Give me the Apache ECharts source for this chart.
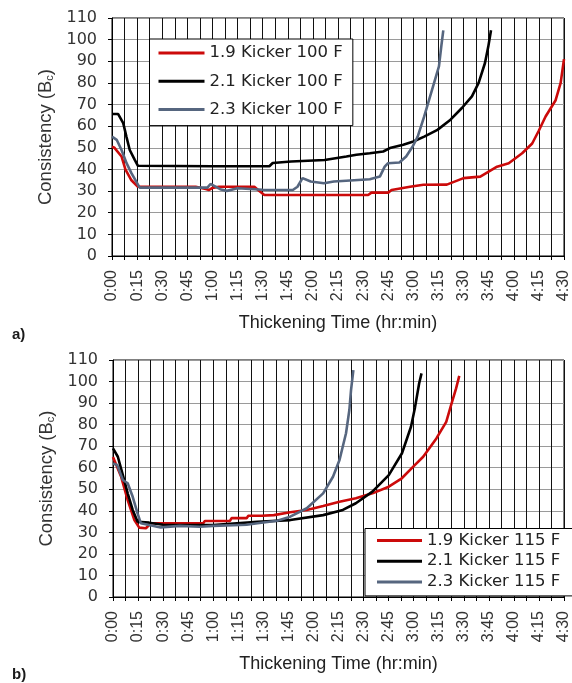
<!DOCTYPE html>
<html>
<head>
<meta charset="utf-8">
<script src="https://cdn.jsdelivr.net/npm/echarts@6/dist/echarts.min.js"></script>
<style>
html,body{margin:0;padding:0;background:#fff;}
#chart{width:572px;height:683px;}
</style>
</head>
<body>
<div id="chart"></div>
<script>
// Time in minutes, consistency in Bc
const aRedT = [0, 1.5, 5.7, 8, 11.6, 15.5, 30, 50, 56, 58, 60, 64, 75, 85, 88, 91, 120, 153, 155, 165, 167, 178, 186, 200, 205, 210, 220, 225, 230, 237, 245, 251, 255, 259, 265, 268, 270];
const aRedV = [50.5, 50, 46, 40, 35, 32, 32, 32, 31, 30.5, 31.5, 32, 32, 32, 30, 28.2, 28.2, 28.2, 29.3, 29.3, 30.5, 32, 32.9, 33, 34.5, 36, 36.7, 39, 41.3, 42.9, 47.5, 52, 58, 64.5, 72, 80, 91];
const aBlackT = [0, 3.7, 6.7, 8.6, 10.6, 13.6, 15.5, 60, 94, 96, 107, 127, 140, 146, 154, 162, 166, 174, 180, 186.5, 194.4, 202.2, 209, 215, 219, 222.8, 224.8, 226.4];
const aBlackV = [65.6, 65.6, 61.4, 55.2, 49, 44.4, 41.7, 41.5, 41.5, 43, 43.7, 44.4, 46, 46.8, 47.5, 48.3, 49.9, 51.4, 52.9, 55.2, 58.3, 63, 68.4, 73.8, 80, 89.2, 96.9, 104.3];
const aBlueT = [0, 2.8, 5.7, 8.7, 11.6, 14.5, 16.5, 40, 57, 58.8, 64.6, 68.6, 75, 90, 108, 110.8, 113.8, 118.7, 126.6, 132.5, 142.3, 154, 160, 162.9, 164.9, 171.7, 175.7, 179.6, 182.6, 186.5, 189.4, 192.4, 195.3, 196.7, 197.9];
const aBlueV = [55.2, 53.7, 49, 42.9, 38.3, 34.4, 31.6, 31.6, 31.6, 33.3, 30.9, 30.1, 31.3, 30.6, 30.5, 32, 36, 34.4, 33.6, 34.4, 34.9, 35.5, 36.7, 41.3, 42.9, 43.2, 46, 50.6, 55.2, 64.5, 72.2, 80, 87.6, 96.9, 104.3];

const bRedT = [0, 4.9, 8.8, 12.8, 15.7, 19.7, 22.6, 54, 55, 70, 71, 80, 81, 89, 96.3, 106.1, 116, 125.8, 135.6, 145.4, 155.3, 165.1, 172.9, 180.8, 185.7, 193.6, 199.5, 202.4, 205.4, 207.3];
const bRedV = [65, 55.8, 45, 35.7, 32.2, 31.9, 34.2, 34.2, 35.3, 35.3, 36.6, 36.6, 37.7, 37.7, 38, 39.3, 40.4, 42.2, 44.2, 45.8, 48.1, 51.2, 55.1, 61.3, 65.1, 73.6, 81.3, 89.1, 96.8, 102.6];
const bBlackT = [0, 2.9, 5.9, 8.8, 11.8, 14.7, 21.6, 30, 60, 86.5, 106.1, 125.8, 137.6, 145.4, 155.3, 165.1, 173, 178.4, 180.8, 183.3, 184.7];
const bBlackV = [69, 65.1, 56.6, 48.1, 40.4, 34.9, 34.5, 33.5, 33.4, 34.9, 35.7, 38, 40.4, 43.5, 48.9, 56.6, 66.7, 79, 88, 99.2, 103.8];
const bBlueT = [0, 2.5, 5.9, 8.8, 11.8, 14.7, 16.7, 28.5, 40, 52, 60, 80, 86.5, 98.3, 106.1, 116, 125.8, 131.7, 135.6, 139.5, 141.5, 142.5, 143.9];
const bBlueV = [62, 61.3, 54.3, 52.8, 46.5, 38.8, 34.2, 32.3, 33, 32.6, 33, 33.5, 34.2, 35.4, 37.3, 41.2, 48.1, 55.8, 63.6, 76, 86.8, 96, 105.3];

const namesA = ['1.9 Kicker 100 F', '2.1 Kicker 100 F', '2.3 Kicker 100 F'];
const namesB = ['1.9 Kicker 115 F', '2.1 Kicker 115 F', '2.3 Kicker 115 F'];
const colors = ['#cc0a0a', '#000000', '#56667f'];

const pairs = (t, v) => t.map((x, i) => [x, v[i]]);
const fmt = m => Math.floor(m / 60) + ':' + String(Math.round(m % 60)).padStart(2, '0');

function xAxisCfg(gi) {
  return {
    type: 'value', gridIndex: gi, min: 0, max: 270, interval: 15,
    axisLine: { show: true, lineStyle: { color: '#000', width: 1 } },
    axisTick: { show: true, length: 4, lineStyle: { color: '#000' } },
    minorTick: { show: true, splitNumber: 2, length: 4, lineStyle: { color: '#000' } },
    splitLine: { show: true, lineStyle: { color: '#111', width: 1 } },
    minorSplitLine: { show: true, lineStyle: { color: '#111', width: 1 } },
    axisLabel: { rotate: 90, margin: 14, formatter: fmt, fontFamily: 'Liberation Sans', fontSize: 16, color: '#333' },
    name: 'Thickening Time (hr:min)', nameLocation: 'middle', nameGap: 58,
    nameTextStyle: { fontFamily: 'Liberation Sans', fontSize: 18, color: '#222' }
  };
}
function yAxisCfg(gi) {
  return {
    type: 'value', gridIndex: gi, min: 0, max: 110, interval: 10,
    axisLine: { show: true, lineStyle: { color: '#000', width: 1 } },
    axisTick: { show: true, length: 4, lineStyle: { color: '#000' } },
    splitLine: { show: true, lineStyle: { color: '#9a9a9a', width: 1 } },
    axisLabel: { margin: 15, fontFamily: 'DejaVu Sans', fontSize: 16, color: '#333' },
    name: 'Consistency (B{sub|c})', nameLocation: 'middle', nameGap: 47, nameRotate: 90,
    nameTextStyle: { fontFamily: 'Liberation Sans', fontSize: 18.5, color: '#333',
      rich: { sub: { fontFamily: 'Liberation Sans', fontSize: 11, color: '#333', verticalAlign: 'bottom', padding: [8, 0, 0, 0] } } }
  };
}
function lineSeries(name, data, ci, gi) {
  return {
    type: 'line', name, data, xAxisIndex: gi, yAxisIndex: gi,
    symbol: 'none', showSymbol: false, clip: true, animation: false,
    color: colors[ci], lineStyle: { color: colors[ci], width: 2.6 }
  };
}
function legendCfg(names, left, top, pad, itemWidth, gap) {
  return {
    data: names.map(n => ({ name: n, icon: 'rect' })), orient: 'vertical', left, top, padding: pad,
    itemWidth, itemHeight: 3, itemGap: gap,
    backgroundColor: '#fff', borderColor: '#000', borderWidth: 1, borderRadius: 0,
    textStyle: { fontFamily: 'DejaVu Sans', fontSize: 16.5, color: '#222', lineHeight: 20 }
  };
}

const chart = echarts.init(document.getElementById('chart'), null, { renderer: 'canvas' });
chart.setOption({
  animation: false,
  backgroundColor: '#fff',
  grid: [
    { left: 112, top: 18, width: 458, height: 238, show: true, borderColor: '#000', borderWidth: 1, backgroundColor: 'transparent' },
    { left: 113, top: 360, width: 458, height: 237, show: true, borderColor: '#000', borderWidth: 1, backgroundColor: 'transparent' }
  ],
  xAxis: [xAxisCfg(0), xAxisCfg(1)],
  yAxis: [yAxisCfg(0), yAxisCfg(1)],
  legend: [
    legendCfg(namesA, 149.5, 39, [4, 10, 6, 9], 46, 8.3),
    legendCfg(namesB, 365, 528.5, [2, 15, 4, 12], 45, 0.7)
  ],
  graphic: [
    { type: 'text', left: 12, top: 327, style: { text: 'a)', font: 'bold 15px "Liberation Sans"', fill: '#1a1a1a' } },
    { type: 'text', left: 12, top: 667, style: { text: 'b)', font: 'bold 15px "Liberation Sans"', fill: '#1a1a1a' } }
  ],
  series: [
    lineSeries(namesA[0], pairs(aRedT, aRedV), 0, 0),
    lineSeries(namesA[1], pairs(aBlackT, aBlackV), 1, 0),
    lineSeries(namesA[2], pairs(aBlueT, aBlueV), 2, 0),
    lineSeries(namesB[0], pairs(bRedT, bRedV), 0, 1),
    lineSeries(namesB[1], pairs(bBlackT, bBlackV), 1, 1),
    lineSeries(namesB[2], pairs(bBlueT, bBlueV), 2, 1)
  ]
});
</script>
</body>
</html>
